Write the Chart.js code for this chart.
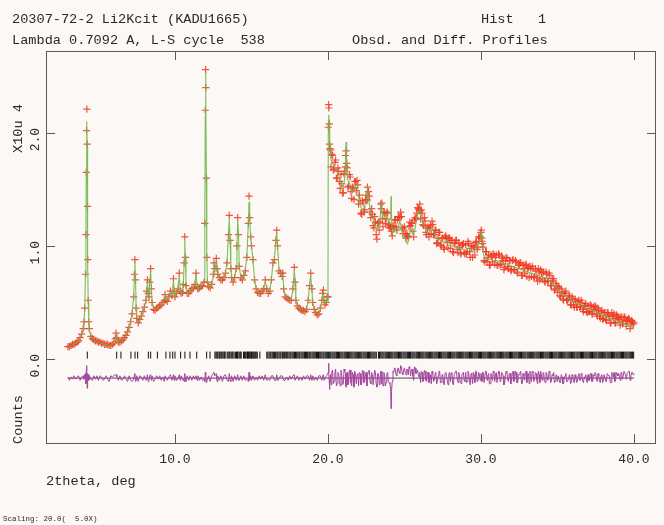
<!DOCTYPE html>
<html>
<head>
<meta charset="utf-8">
<script src="https://cdn.jsdelivr.net/npm/chart.js@4.4.1/dist/chart.umd.min.js"></script>
<style>
  html, body { margin: 0; padding: 0; background: #fbf8f6; }
  canvas { display: block; }
</style>
</head>
<body>
<canvas id="c" width="664" height="525"></canvas>
<script>
// ---------------- data (intensities in units of 10^4 counts) ----------------
const twoTheta = [
  3.0,3.1,3.2,3.3,3.4,3.5,3.6,3.7,3.8,3.9,
  4.0,4.05,4.1,4.15,4.18,4.2,4.22,4.24,4.26,4.28,4.3,4.33,4.37,4.4,4.5,4.6,4.7,4.8,4.9,
  5.0,5.1,5.2,5.3,5.4,5.5,5.6,5.7,5.8,5.9,
  6.0,6.1,6.15,6.2,6.3,6.4,6.5,6.6,6.7,6.8,6.9,
  7.0,7.1,7.2,7.3,7.35,7.38,7.42,7.46,7.5,7.6,7.7,7.8,7.9,
  8.0,8.1,8.15,8.2,8.25,8.3,8.35,8.41,8.46,8.5,8.6,8.7,8.8,8.9,
  9.0,9.1,9.2,9.3,9.35,9.4,9.5,9.6,9.7,9.8,9.9,9.95,
  10.0,10.1,10.2,10.28,10.35,10.4,10.5,10.55,10.6,10.64,10.68,10.72,10.8,10.9,
  11.0,11.1,11.2,11.3,11.37,11.45,11.5,11.6,11.7,11.8,11.9,11.95,11.98,
  12.0,12.02,12.05,12.08,12.12,12.2,12.3,12.4,12.5,12.55,12.6,12.7,12.75,12.8,12.9,
  13.0,13.1,13.2,13.3,13.4,13.5,13.55,13.6,13.65,13.7,13.8,13.9,
  14.0,14.05,14.1,14.15,14.2,14.3,14.4,14.5,14.6,14.7,14.8,14.84,14.88,14.95,
  15.0,15.1,15.2,15.3,15.4,15.5,15.6,15.7,15.8,15.9,
  16.0,16.1,16.2,16.3,16.4,16.5,16.6,16.65,16.7,16.8,16.9,
  17.0,17.05,17.1,17.2,17.3,17.4,17.5,17.6,17.7,17.8,17.85,17.9,
  18.0,18.1,18.2,18.3,18.4,18.5,18.6,18.7,18.8,18.87,18.95,
  19.0,19.1,19.2,19.3,19.4,19.5,19.6,19.65,19.7,19.75,19.8,19.9,19.95,
  20.0,20.02,20.04,20.06,20.08,20.1,20.13,20.16,20.2,20.3,20.4,20.5,20.6,20.7,20.8,20.9,
  21.0,21.1,21.15,21.18,21.22,21.3,21.4,21.5,21.6,21.7,21.8,21.9,
  22.0,22.1,22.2,22.3,22.4,22.5,22.55,22.58,22.7,22.8,22.9,
  23.0,23.1,23.2,23.3,23.4,23.48,23.52,23.6,23.7,23.8,23.9,
  24.0,24.1,24.12,24.15,24.2,24.3,24.4,24.5,24.6,24.7,24.8,24.9,
  25.0,25.1,25.2,25.3,25.4,25.5,25.6,25.7,25.8,25.9,
  26.0,26.02,26.1,26.2,26.3,26.4,26.5,26.6,26.7,26.8,26.9,
  27.0,27.1,27.2,27.3,27.4,27.5,27.6,27.7,27.8,27.9,
  28.0,28.1,28.2,28.3,28.4,28.5,28.6,28.7,28.8,28.9,
  29.0,29.1,29.2,29.3,29.4,29.5,29.6,29.7,29.8,29.9,
  30.0,30.02,30.06,30.1,30.2,30.3,30.4,30.5,30.6,30.7,30.8,30.9,
  31.0,31.1,31.2,31.3,31.4,31.5,31.6,31.7,31.8,31.9,
  32.0,32.1,32.2,32.3,32.4,32.5,32.6,32.7,32.8,32.9,
  33.0,33.1,33.2,33.3,33.4,33.5,33.6,33.7,33.8,33.9,
  34.0,34.1,34.2,34.3,34.4,34.5,34.6,34.7,34.8,34.9,
  35.0,35.1,35.2,35.3,35.4,35.5,35.6,35.7,35.8,35.9,
  36.0,36.1,36.2,36.3,36.4,36.5,36.6,36.7,36.8,36.9,
  37.0,37.1,37.2,37.3,37.4,37.5,37.6,37.7,37.8,37.9,
  38.0,38.1,38.2,38.3,38.4,38.5,38.6,38.7,38.8,38.9,
  39.0,39.1,39.2,39.3,39.4,39.5,39.6,39.7,39.8,39.9,
  40.0
];

const observed = [
  .11,.11,.12,.13,.13,.14,.15,.16,.19,.22,
  .27,.33,.45,.75,1.10,1.65,2.02,2.21,1.90,1.35,.88,.52,.33,.27,.20,.18,.17,.16,.16,
  .15,.15,.14,.14,.13,.13,.13,.12,.12,.13,
  .14,.18,.23,.19,.15,.15,.16,.17,.19,.21,.24,
  .28,.33,.40,.55,.75,.88,.70,.45,.36,.32,.35,.38,.42,
  .46,.52,.60,.70,.58,.55,.68,.80,.62,.50,.44,.43,.45,.46,
  .47,.48,.50,.52,.57,.52,.51,.55,.60,.56,.71,.60,
  .55,.58,.62,.76,.60,.58,.59,.66,.85,1.08,.90,.65,.58,.58,
  .60,.62,.63,.66,.76,.64,.62,.63,.64,.65,.68,1.20,2.20,
  2.56,2.40,1.60,.90,.68,.64,.63,.66,.75,.85,.80,.89,.80,.75,.72,
  .70,.70,.72,.76,.85,1.10,1.27,1.05,.80,.72,.68,.72,
  .80,1.00,1.25,1.10,.82,.72,.70,.74,.78,.90,1.20,1.44,1.25,1.08,
  1.00,.88,.70,.62,.59,.58,.58,.60,.62,.70,
  .62,.58,.60,.70,.85,.88,1.05,1.14,1.00,.78,.76,
  .73,.76,.62,.55,.54,.53,.52,.52,.62,.81,.68,.52,
  .47,.45,.44,.43,.43,.42,.44,.52,.65,.76,.62,
  .50,.44,.41,.39,.40,.45,.52,.58,.61,.52,.48,.50,.55,
  .55,2.05,2.25,2.22,2.08,1.90,1.86,1.85,1.70,1.80,1.68,1.76,1.60,1.66,1.51,1.55,
  1.47,1.66,1.80,1.84,1.73,1.52,1.63,1.48,1.52,1.41,1.57,1.58,
  1.37,1.40,1.28,1.38,1.32,1.45,1.41,1.52,1.44,1.25,1.28,
  1.16,1.21,1.06,1.21,1.21,1.33,1.38,1.17,1.29,1.24,1.29,
  1.16,1.16,1.17,1.13,1.09,1.17,1.23,1.14,1.26,1.26,1.26,1.11,
  1.17,1.07,1.09,1.17,1.18,1.20,1.08,1.25,1.29,1.33,
  1.37,1.31,1.32,1.19,1.25,1.12,1.16,1.08,1.18,1.22,1.10,
  1.14,1.02,1.07,1.12,1.00,1.07,.97,1.09,1.03,1.07,
  .98,1.05,.94,1.02,1.05,.94,.99,.93,1.01,.94,
  1.01,.95,1.02,.90,.98,1.00,.92,1.04,.99,1.07,
  1.12,1.14,1.04,1.02,.87,.95,.86,.92,.83,.91,.93,.84,
  .92,.83,.92,.84,.89,.79,.87,.89,.80,.87,
  .79,.88,.79,.86,.76,.83,.85,.74,.80,.83,
  .73,.81,.82,.73,.80,.73,.78,.69,.77,.79,
  .71,.77,.68,.75,.69,.74,.65,.69,.61,.67,
  .59,.63,.55,.59,.52,.58,.52,.53,.56,.48,
  .53,.46,.51,.46,.52,.46,.50,.42,.47,.42,
  .47,.42,.47,.40,.44,.46,.38,.43,.36,.43,
  .36,.41,.34,.41,.38,.32,.38,.40,.32,.38,
  .37,.30,.37,.33,.37,.29,.34,.35,.31,.33,
  .32
];

const calculated = [
  .11,.115,.12,.125,.13,.14,.15,.165,.185,.215,
  .265,.32,.44,.74,1.12,1.62,1.98,2.10,1.88,1.38,.86,.50,.32,.26,.20,.18,.17,.16,.16,
  .15,.145,.14,.135,.13,.13,.125,.125,.125,.13,
  .14,.17,.21,.18,.155,.155,.16,.175,.19,.21,.24,
  .28,.33,.41,.56,.74,.86,.71,.46,.36,.33,.35,.38,.42,
  .46,.52,.61,.68,.59,.56,.67,.78,.63,.50,.45,.44,.45,.46,
  .47,.48,.50,.53,.56,.52,.52,.55,.59,.57,.69,.60,
  .55,.58,.63,.74,.61,.58,.59,.67,.86,1.05,.91,.66,.58,.58,
  .60,.62,.63,.67,.75,.65,.62,.63,.64,.65,.69,1.22,2.15,
  2.54,2.36,1.62,.92,.69,.64,.63,.66,.73,.82,.79,.86,.80,.75,.72,
  .70,.71,.72,.76,.86,1.12,1.24,1.06,.81,.72,.69,.72,
  .81,1.01,1.23,1.11,.83,.72,.71,.74,.79,.91,1.22,1.39,1.26,1.07,
  1.01,.87,.71,.62,.59,.58,.59,.60,.63,.68,
  .63,.59,.61,.70,.84,.89,1.06,1.12,1.01,.79,.75,
  .73,.75,.63,.56,.54,.53,.52,.53,.61,.79,.69,.53,
  .47,.45,.44,.44,.43,.43,.44,.51,.66,.74,.62,
  .50,.44,.41,.40,.40,.44,.52,.57,.59,.53,.49,.50,.54,
  .52,2.00,2.12,2.16,2.10,2.00,1.90,1.82,1.76,1.73,1.71,1.68,1.65,1.62,1.58,1.53,
  1.52,1.60,1.76,1.92,1.70,1.58,1.56,1.52,1.47,1.49,1.53,1.55,
  1.44,1.36,1.33,1.32,1.35,1.40,1.47,1.50,1.37,1.30,1.25,
  1.22,1.16,1.14,1.17,1.24,1.38,1.32,1.24,1.26,1.28,1.24,
  1.20,1.26,1.44,1.28,1.12,1.12,1.15,1.12,1.17,1.22,1.16,1.08,
  1.08,1.04,1.02,1.07,1.16,1.12,1.10,1.16,1.24,1.30,
  1.32,1.30,1.26,1.22,1.18,1.14,1.11,1.12,1.15,1.16,1.13,
  1.10,1.07,1.05,1.06,1.04,1.04,1.03,1.04,1.05,1.03,
  1.01,1.00,1.00,.99,.99,.98,.97,.98,.97,.96,
  .96,.98,.98,.96,.95,.95,.96,.98,1.01,1.04,
  1.08,1.12,1.07,.97,.91,.89,.88,.88,.88,.88,.87,.87,
  .87,.87,.86,.86,.85,.85,.84,.84,.83,.83,
  .82,.82,.81,.81,.80,.80,.79,.79,.78,.78,
  .77,.77,.76,.76,.75,.75,.74,.74,.74,.73,
  .73,.72,.72,.71,.70,.69,.68,.67,.65,.64,
  .62,.61,.59,.58,.57,.56,.55,.54,.53,.52,
  .51,.50,.50,.49,.48,.48,.47,.46,.46,.45,
  .44,.44,.43,.43,.42,.42,.41,.41,.40,.40,
  .38,.38,.37,.37,.36,.36,.35,.35,.34,.34,
  .33,.32,.32,.31,.31,.30,.30,.29,.29,.28,
  .28
];

const difference = [
  .01,-.02,.01,-.01,.02,-.01,.01,.02,-.02,.01,
  .02,-.01,.03,.04,-.05,.07,.09,.11,-.09,-.07,.04,.03,-.02,.02,-.01,-.02,.02,-.01,.02,
  -.02,.02,.01,-.02,-.01,.02,-.01,-.03,.02,.01,
  .02,.03,.03,.01,-.02,.02,-.02,-.01,.02,-.01,-.03,
  .02,-.02,-.03,-.01,.03,.04,-.03,-.02,.02,-.03,.02,.01,-.02,
  .02,-.02,-.01,.03,-.03,-.02,.02,.03,-.02,.02,-.03,-.01,.02,-.01,
  .02,-.02,.01,-.03,.02,.02,-.02,.01,.03,-.02,.03,-.02,
  .02,-.02,-.01,.03,-.02,.02,-.02,-.01,-.03,.04,-.02,-.03,.02,-.02,
  .02,-.02,.02,-.01,.02,-.02,.02,-.02,.01,-.02,-.01,-.03,.05,
  .03,.05,-.04,-.03,-.02,.02,-.03,.02,.04,.05,.02,.04,-.03,.02,-.02,
  .02,-.03,.02,.03,-.02,-.03,.04,-.02,-.03,.02,-.03,.02,
  -.02,-.02,.03,-.02,-.02,.02,-.02,.02,-.02,-.01,-.03,.05,-.02,.02,
  -.02,.02,-.02,.01,-.02,.02,-.01,.02,-.02,.03,
  -.02,-.01,-.02,.02,.02,-.02,-.02,.03,-.02,-.01,.02,
  .02,.02,-.02,-.02,.01,-.02,.02,-.01,.02,.03,-.02,-.02,
  .02,-.02,.01,-.02,.02,-.01,.02,.02,-.02,.03,-.02,
  .02,-.02,.01,-.02,.02,.02,-.02,.01,.03,-.02,-.02,.02,.03,
  .03,.05,.13,.06,-.02,-.10,-.04,.03,-.06,.07,-.03,.08,-.05,.04,-.07,.02,
  -.05,.06,.04,-.08,.03,-.06,.07,-.04,.05,-.08,.04,.03,
  -.07,.04,-.05,.06,-.03,.05,-.06,.02,.07,-.05,.03,
  -.06,.05,-.08,.04,-.03,-.05,.06,-.07,.03,-.04,.05,
  -.04,-.10,-.27,-.15,-.03,.05,.08,.02,.09,.04,.10,.03,
  .09,.03,.07,.10,.02,.08,-.02,.09,.05,.03,
  .05,.01,.06,-.03,.07,-.02,.05,-.04,.03,.06,-.03,
  .04,-.05,.02,.06,-.04,.03,-.06,.05,-.02,.04,
  -.03,.05,-.06,.03,.06,-.04,.02,-.05,.04,-.02,
  .05,-.03,.04,-.06,.03,.05,-.04,.06,-.02,.03,
  .04,.02,-.03,.05,-.04,.06,-.02,.04,-.05,.03,.06,-.03,
  .05,-.04,.06,-.02,.04,-.06,.03,.05,-.03,.04,
  -.03,.06,-.02,.05,-.04,.03,.06,-.05,.02,.05,
  -.04,.04,.06,-.03,.05,-.02,.04,-.05,.03,.06,
  -.02,.05,-.04,.04,-.01,.05,-.03,.02,-.04,.03,
  -.03,.02,-.04,.01,-.05,.02,-.03,-.01,.03,-.04,
  .02,-.04,.01,-.03,.04,-.02,.03,-.04,.01,-.03,
  .03,-.02,.04,-.03,.02,.04,-.03,.02,-.04,.03,
  -.02,.03,-.03,.04,.02,-.04,.03,.05,-.02,.04,
  .04,-.02,.05,.02,.06,-.01,.04,.06,.02,.05,
  .04
];

// additional observed steps (midpoints) in the dense high-angle region
const extraTwoTheta = [
  20.25,20.35,20.45,20.55,20.65,20.75,20.85,20.95,
  21.05,21.15,21.25,21.35,21.45,21.55,21.65,21.75,21.85,21.95,
  22.05,22.15,22.25,22.35,22.45,22.55,22.65,22.75,22.85,22.95,
  23.05,23.15,23.25,23.35,23.45,23.55,23.65,23.75,23.85,23.95,
  24.05,24.15,24.25,24.35,24.45,24.55,24.65,24.75,24.85,24.95,
  25.05,25.15,25.25,25.35,25.45,25.55,25.65,25.75,25.85,25.95,
  26.05,26.15,26.25,26.35,26.45,26.55,26.65,26.75,26.85,26.95,
  27.05,27.15,27.25,27.35,27.45,27.55,27.65,27.75,27.85,27.95,
  28.05,28.15,28.25,28.35,28.45,28.55,28.65,28.75,28.85,28.95,
  29.05,29.15,29.25,29.35,29.45,29.55,29.65,29.75,29.85,29.95,
  30.05,30.15,30.25,30.35,30.45,30.55,30.65,30.75,30.85,30.95,
  31.05,31.15,31.25,31.35,31.45,31.55,31.65,31.75,31.85,31.95,
  32.05,32.15,32.25,32.35,32.45,32.55,32.65,32.75,32.85,32.95,
  33.05,33.15,33.25,33.35,33.45,33.55,33.65,33.75,33.85,33.95,
  34.05,34.15,34.25,34.35,34.45,34.55,34.65,34.75,34.85,34.95,
  35.05,35.15,35.25,35.35,35.45,35.55,35.65,35.75,35.85,35.95,
  36.05,36.15,36.25,36.35,36.45,36.55,36.65,36.75,36.85,36.95,
  37.05,37.15,37.25,37.35,37.45,37.55,37.65,37.75,37.85,37.95,
  38.05,38.15,38.25,38.35,38.45,38.55,38.65,38.75,38.85,38.95,
  39.05,39.15,39.25,39.35,39.45,39.55,39.65,39.75,39.85,39.95
];

const extraObserved = [
  1.81,1.67,1.74,1.60,1.69,1.57,1.63,1.47,
  1.64,1.70,1.69,1.53,1.61,1.42,1.51,1.57,1.49,1.54,
  1.45,1.29,1.40,1.30,1.41,1.40,1.48,1.30,1.33,1.18,
  1.26,1.10,1.20,1.14,1.37,1.24,1.30,1.20,1.30,1.19,
  1.18,1.16,1.18,1.23,1.17,1.23,1.25,1.30,1.16,1.15,
  1.11,1.11,1.08,1.21,1.20,1.13,1.23,1.24,1.34,1.32,
  1.24,1.29,1.18,1.22,1.10,1.17,1.16,1.11,1.19,1.10,
  1.14,1.03,1.12,1.01,1.07,.99,1.08,1.07,.98,1.07,
  1.05,.95,1.03,1.05,.97,1.03,.94,1.01,1.02,.93,
  .93,1.04,.95,1.00,.90,.99,1.03,.97,1.08,1.08,
  1.07,.99,.86,.95,.90,.83,.92,.86,.92,.90,
  .83,.93,.83,.91,.87,.81,.90,.82,.87,.78,
  .87,.79,.87,.77,.83,.85,.74,.83,.76,.84,
  .80,.72,.80,.82,.72,.80,.72,.80,.70,.76,
  .77,.69,.77,.69,.76,.65,.71,.71,.62,.65,
  .64,.56,.62,.53,.58,.60,.52,.56,.48,.55,
  .48,.53,.46,.51,.46,.52,.44,.47,.49,.41,
  .42,.48,.40,.46,.47,.40,.45,.38,.42,.35,
  .41,.35,.41,.39,.32,.41,.36,.32,.39,.36,
  .35,.37,.31,.37,.34,.34,.36,.27,.34,.31
];

const extraDifference = [
  .06,-.05,.04,-.07,.05,-.03,.07,-.06,
  .08,-.06,.05,-.04,.07,-.07,.03,.06,-.05,.04,
  .05,-.06,.07,-.04,.03,-.07,.06,-.03,.05,-.06,
  .07,-.05,.04,-.06,.06,-.04,.05,-.07,.04,-.03,
  -.05,-.12,.06,.09,.03,.08,.05,.11,.04,.07,
  .05,.08,.03,.09,.06,.02,.10,.04,.07,.01,
  -.04,.05,-.02,.06,-.03,.05,.02,-.05,.04,-.02,
  .05,-.03,.06,-.04,.03,-.05,.04,.02,-.06,.05,
  .04,-.05,.03,.06,-.02,.05,-.04,.03,.05,-.03,
  -.04,.06,-.02,.04,-.05,.03,.06,-.03,.05,-.02,
  -.03,.05,-.04,.06,.02,-.05,.04,-.02,.05,.03,
  -.04,.06,-.03,.05,.02,-.04,.06,-.02,.04,-.05,
  .05,-.03,.06,-.04,.03,.05,-.05,.04,-.02,.06,
  .03,-.05,.04,.06,-.03,.05,-.02,.06,-.04,.03,
  .04,-.03,.05,-.02,.06,-.04,.03,.05,-.03,.02,
  .02,-.04,.03,-.05,.01,.04,-.03,.02,-.05,.03,
  -.03,.03,-.04,.02,-.02,.04,-.03,.01,.03,-.04,
  -.02,.04,-.03,.03,.05,-.02,.04,-.03,.02,-.04,
  .03,-.03,.04,.02,-.04,.05,.01,-.03,.05,.02,
  .02,.05,-.01,.06,.03,.04,.06,-.02,.05,.03
];

// reflection (hkl) positions, 2theta in degrees
const reflections = [
  4.27,6.19,6.47,7.12,7.39,7.56,8.26,8.41,8.85,9.41,9.67,9.85,10.00,10.37,10.65,10.98,11.42,12.07,12.29,
  12.61,12.68,12.74,12.80,12.88,12.93,13.00,13.06,13.13,13.20,13.25,13.33,13.45,13.52,13.58,13.66,13.72,
  13.78,13.86,13.95,14.02,14.08,14.12,14.20,14.27,14.33,14.48,14.55,14.62,14.70,14.74,14.80,14.85,14.90,
  14.96,15.00,15.05,15.12,15.18,15.25,15.31,15.38,15.55,
  16.00,16.07,16.15,16.22,16.28,16.36,16.45,16.51,16.58,16.66,16.72,16.80,16.87,16.93,17.02,17.08,17.15,
  17.24,17.30,17.37,17.45,17.52,17.58,17.66,17.73,17.81,17.88,17.95,18.03,18.10,18.16,18.24,18.31,18.38,
  18.46,18.53,18.60,18.67,18.75,18.81,18.88,18.96,19.03,19.10,19.17,19.25,19.32,19.38,19.46,19.53,19.60,
  19.68,19.74,19.82,19.89,19.96,20.04,20.11,20.18,20.26,20.33,20.40,20.47,20.55,20.62,20.69,20.76,20.84,
  20.91,20.98,21.06,21.13,21.20,21.27,21.34,21.42,21.49,21.56,21.63,21.71,21.78,21.85,21.92,22.00,22.07,
  22.14,22.21,22.29,22.36,22.43,22.50,22.58,22.65,22.72,22.79,22.87,22.94,23.01,23.08,23.16,23.30,23.37,
  23.45,23.52,23.59,23.66,23.74,23.81,23.88,23.95,24.03,24.10,24.17,24.24,24.32,24.39,24.46,24.53,24.61,
  24.68,24.75,24.82,24.90,24.97,25.04,25.11,25.19,25.26,25.33,25.40,25.48,25.55,25.62,25.69,25.77,25.84,
  25.91,25.98,26.06,26.13,26.20,26.27,26.35,26.42,26.49,26.56,26.64,26.71,26.78,26.85,26.93,27.00,27.07,
  27.14,27.22,27.29,27.36,27.43,27.51,27.58,27.65,27.72,27.80,27.87,27.94,28.01,28.09,28.16,28.23,28.30,
  28.38,28.45,28.52,28.59,28.67,28.74,28.81,28.88,28.96,29.03,29.10,29.17,29.25,29.32,29.39,29.46,29.54,
  29.61,29.68,29.75,29.83,29.90,29.97,30.04,30.12,30.19,30.26,30.33,30.41,30.48,30.55,30.62,30.70,30.77,
  30.84,30.91,30.99,31.06,31.13,31.20,31.28,31.35,31.42,31.49,31.57,31.64,31.71,31.78,31.86,31.93,32.00,
  32.07,32.15,32.22,32.29,32.36,32.44,32.51,32.58,32.65,32.73,32.80,32.87,32.94,33.02,33.09,33.16,33.23,
  33.31,33.38,33.45,33.52,33.60,33.67,33.74,33.81,33.89,33.96,34.03,34.10,34.18,34.25,34.32,34.39,34.47,
  34.54,34.61,34.68,34.76,34.83,34.90,34.97,35.05,35.12,35.19,35.26,35.34,35.41,35.48,35.55,35.63,35.70,
  35.77,35.84,35.92,35.99,36.06,36.13,36.21,36.28,36.35,36.42,36.50,36.57,36.64,36.71,36.79,36.86,36.93,
  37.00,37.08,37.15,37.22,37.29,37.37,37.44,37.51,37.58,37.66,37.73,37.80,37.87,37.95,38.02,38.09,38.16,
  38.24,38.31,38.38,38.45,38.53,38.60,38.67,38.74,38.82,38.89,38.96,39.03,39.11,39.18,39.25,39.32,39.40,
  39.47,39.54,39.61,39.69,39.76,39.83,39.90,39.98
];

const xTickValues = [10, 20, 30, 40];
const yTickValues = [0, 1, 2];

const titleLeft1 = '20307-72-2 Li2Kcit (KADU1665)';
const titleRight1 = 'Hist   1';
const titleLeft2 = 'Lambda 0.7092 A, L-S cycle  538';
const titleRight2 = 'Obsd. and Diff. Profiles';
const yUnitLabel = 'X10u 4';
const yAxisLabel = 'Counts';
const xAxisLabel = '2theta, deg';
const scalingNote = 'Scaling: 20.0(  5.0X)';

// ---------------- style / layout constants ----------------
const DIFF_BASELINE = -0.168;   // plotting offset of the difference curve
const TICK_ROW = 0.035;         // plotting level of the reflection tick row
const X_MIN = 1.57, X_MAX = 41.44;
const Y_MIN = -0.751, Y_MAX = 2.724;
const MONO = "'Liberation Mono', 'DejaVu Sans Mono', monospace";
const BG = '#fbf8f6';
const INK = '#2a2a2a';

if (observed.length !== twoTheta.length || calculated.length !== twoTheta.length || difference.length !== twoTheta.length ||
    extraObserved.length !== extraTwoTheta.length || extraDifference.length !== extraTwoTheta.length) {
  throw new Error('length mismatch ' + twoTheta.length + ' ' + observed.length + ' ' + calculated.length + ' ' +
    difference.length + ' / ' + extraTwoTheta.length + ' ' + extraObserved.length + ' ' + extraDifference.length);
}

const obsData = twoTheta.map((x, i) => ({ x, y: observed[i] }))
  .concat(extraTwoTheta.map((x, i) => ({ x, y: extraObserved[i] })));
const calcData = twoTheta.map((x, i) => ({ x, y: calculated[i] }));
const diffData = twoTheta.map((x, i) => ({ x, y: difference[i] + DIFF_BASELINE }))
  .concat(extraTwoTheta.map((x, i) => ({ x, y: extraDifference[i] + DIFF_BASELINE })))
  .sort((a, b) => a.x - b.x);
const baseData = [{ x: twoTheta[0], y: DIFF_BASELINE }, { x: twoTheta[twoTheta.length - 1], y: DIFF_BASELINE }];
const reflData = reflections.map(x => ({ x, y: TICK_ROW }));

const framePlugin = {
  id: 'gsasFrame',
  beforeDraw(chart) {
    const ctx = chart.ctx;
    ctx.save();
    ctx.fillStyle = BG;
    ctx.fillRect(0, 0, chart.width, chart.height);
    ctx.restore();
  },
  afterDraw(chart) {
    const ctx = chart.ctx;
    const a = chart.chartArea;
    const xs = chart.scales.x, ys = chart.scales.y;
    ctx.save();
    ctx.strokeStyle = '#5a5a5a';
    ctx.lineWidth = 1;
    ctx.strokeRect(Math.round(a.left) + 0.5, Math.round(a.top) + 0.5,
                   Math.round(a.right - a.left) - 1, Math.round(a.bottom - a.top) - 1);
    ctx.beginPath();
    xTickValues.forEach(v => {
      const px = Math.round(xs.getPixelForValue(v)) + 0.5;
      ctx.moveTo(px, a.bottom); ctx.lineTo(px, a.bottom - 10);
      ctx.moveTo(px, a.top); ctx.lineTo(px, a.top + 9);
    });
    yTickValues.forEach(v => {
      const py = Math.round(ys.getPixelForValue(v)) + 0.5;
      ctx.moveTo(a.left, py); ctx.lineTo(a.left + 9, py);
      ctx.moveTo(a.right, py); ctx.lineTo(a.right - 9, py);
    });
    ctx.stroke();

    ctx.fillStyle = INK;
    ctx.textBaseline = 'middle';
    ctx.textAlign = 'left';
    ctx.font = '13.6px ' + MONO;
    ctx.fillText(titleLeft1, 12, 19);
    ctx.fillText(titleRight1, 481, 19);
    ctx.fillText(titleLeft2, 12, 40);
    ctx.fillText(titleRight2, 352, 40);

    ctx.save();
    ctx.translate(18, 153);
    ctx.rotate(-Math.PI / 2);
    ctx.fillText(yUnitLabel, 0, 0);
    ctx.restore();

    ctx.font = '7.5px ' + MONO;
    ctx.fillText(scalingNote, 3, 519);
    ctx.restore();
  }
};

new Chart(document.getElementById('c'), {
  type: 'scatter',
  data: {
    datasets: [
      { label: 'Calculated', data: calcData, showLine: true, borderColor: 'rgba(112,182,72,0.9)', borderWidth: 1.1,
        pointRadius: 0, tension: 0 },
      { label: 'Observed', data: obsData, showLine: false, pointStyle: 'cross', pointRadius: 3.6,
        pointBorderColor: 'rgba(238,62,36,0.88)', pointBorderWidth: 1.2, pointBackgroundColor: 'rgba(0,0,0,0)' },
      { label: 'Difference', data: diffData, showLine: true, borderColor: '#a3449f', borderWidth: 1,
        pointRadius: 0, tension: 0 },
      { label: 'Zero', data: baseData, showLine: true, borderColor: '#4a4a4a', borderWidth: 1, pointRadius: 0 },
      { label: 'Reflections', data: reflData, showLine: false, pointStyle: 'line', rotation: 90, pointRadius: 3.5,
        pointBorderColor: '#111', pointBorderWidth: 1 }
    ]
  },
  options: {
    responsive: false,
    animation: false,
    devicePixelRatio: 1,
    layout: { padding: { top: 51, right: 8, bottom: 0, left: 0 } },
    plugins: { legend: { display: false }, tooltip: { enabled: false } },
    scales: {
      x: {
        type: 'linear', position: 'bottom', min: X_MIN, max: X_MAX,
        grid: { display: false }, border: { display: false },
        afterBuildTicks: s => { s.ticks = xTickValues.map(v => ({ value: v })); },
        afterFit: s => { s.height = 81; },
        ticks: { callback: v => Number(v).toFixed(1), autoSkip: false, maxRotation: 0, padding: 0,
                 color: INK, font: { family: MONO, size: 13 } },
        title: { display: true, text: xAxisLabel, align: 'start', color: INK,
                 font: { family: MONO, size: 13.6 }, padding: { top: 0, bottom: 35 } }
      },
      y: {
        type: 'linear', position: 'left', min: Y_MIN, max: Y_MAX,
        grid: { display: false }, border: { display: false },
        afterBuildTicks: s => { s.ticks = yTickValues.map(v => ({ value: v })); },
        afterFit: s => { s.width = 46; },
        ticks: { callback: v => Number(v).toFixed(1), autoSkip: false, minRotation: 90, maxRotation: 90,
                 padding: 2, labelOffset: -5, color: INK, font: { family: MONO, size: 13 } },
        title: { display: true, text: yAxisLabel, align: 'start', color: INK,
                 font: { family: MONO, size: 13.6 }, padding: { top: 10, bottom: 0 } }
      }
    }
  },
  plugins: [framePlugin]
});
</script>
</body>
</html>
